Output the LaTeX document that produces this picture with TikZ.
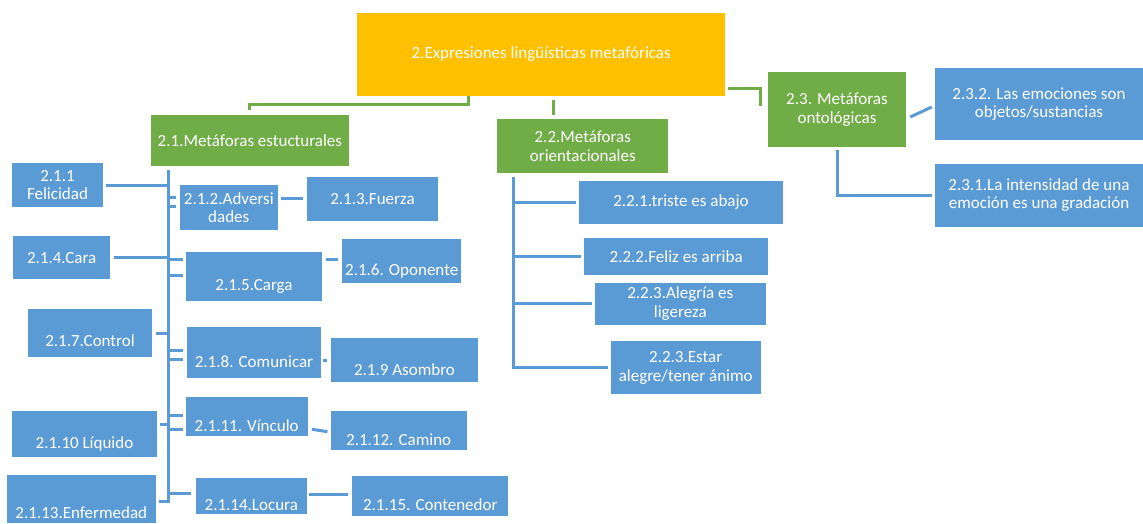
\documentclass[tikz,border=0pt]{standalone}
\usepackage{fontspec}
\setmainfont{Carlito}
\definecolor{azul}{HTML}{5B9BD5}
\definecolor{verde}{HTML}{70AD47}
\definecolor{amarillo}{HTML}{FFC000}

\begin{document}
\begin{tikzpicture}[x=1pt, y=-1pt,
  caja/.style={fill=#1, text=white, align=center, inner sep=2pt,
    font=\fontsize{17}{18.5}\selectfont},
  azulbox/.style={caja=azul},
  verdebox/.style={caja=verde},
  lowtxt/.style={text height=#1, text depth=1pt},
  linaz/.style={draw=azul, line width=3pt},
  linver/.style={draw=verde, line width=3pt}]
\useasboundingbox[fill=white] (0,0) rectangle (1143,523);

% nivel 2
\node[caja=amarillo, minimum width=367.7pt, minimum height=83.3pt] (top) at (541.2,54.3) {2.Expresiones lingüísticas metafóricas};
\node[verdebox, minimum width=198.3pt, minimum height=51pt] (g21) at (249.9,140.5) {2.1.Metáforas estucturales};
\node[verdebox, minimum width=171pt, minimum height=53.4pt] (g22) at (582.8,146) {2.2.Metáforas\\orientacionales};
\node[verdebox, minimum width=137.4pt, minimum height=75.6pt] (g23) at (837,109.5) {2.3. Metáforas\\ontológicas};

\draw[linver] ([xshift=-73pt]top.south) -- ++(0,8) -| ([yshift=5pt]g21.north);
\draw[linver] ([shift={(12.1pt,-4pt)}]top.south) -- ([shift={(-29.5pt,4pt)}]g22.north);
\draw[linver] ([shift={(3pt,-34pt)}]top.east) -| ([shift={(-7.6pt,3.5pt)}]g23.west);

% 2.3
\node[azulbox, minimum width=208pt, minimum height=71.7pt] (b232) at (1039,104.2) {2.3.2. Las emociones son\\objetos/sustancias};
\node[azulbox, minimum width=208pt, minimum height=62.7pt] (b231) at (1039,195.3) {2.3.1.La intensidad de una\\emoción es una gradación};
\draw[linaz] ([shift={(4.3pt,-7.5pt)}]g23.east) -- ([shift={(-3pt,-2.8pt)}]b232.west);
\draw[linaz] ([yshift=-2.7pt]g23.south) |- ([xshift=-3pt]b231.west);

% 2.2
\node[azulbox, minimum width=203.4pt, minimum height=43.3pt] (b221) at (681,202.3) {2.2.1.triste es abajo};
\node[azulbox, minimum width=184.3pt, minimum height=37.3pt] (b222) at (676.2,256.3) {2.2.2.Feliz es arriba};
\node[azulbox, minimum width=170.7pt, minimum height=42.3pt] (b223) at (680.3,303.8) {2.2.3.Alegría es\\ligereza};
\node[azulbox, minimum width=150pt, minimum height=53.3pt] (b224) at (685.7,367.7) {2.2.3.Estar\\alegre/tener ánimo};
\coordinate (s22) at ([shift={(-69.5pt,-4pt)}]g22.south);
\draw[linaz] (s22) |- ([xshift=-3pt]b224.west);
\foreach \n in {b221,b222,b223}
  \draw[linaz] (s22 |- \n.west) -- ([xshift=-3pt]\n.west);

% 2.1
\node[azulbox, minimum width=90.4pt, minimum height=43.4pt] (b211) at (57.5,185) {2.1.1\\Felicidad};
\node[azulbox, minimum width=97.7pt, minimum height=45pt] (b212) at (228.8,207.5) {2.1.2.Adversi\\dades};
\node[azulbox, minimum width=131.6pt, minimum height=44.3pt] (b213) at (372.5,198.8) {2.1.3.Fuerza};
\node[azulbox, minimum width=96.7pt, minimum height=43.3pt] (b214) at (61.7,257.7) {2.1.4.Cara};
\node[azulbox, lowtxt=30pt, minimum width=136.6pt, minimum height=49.3pt] (b215) at (254,276.3) {2.1.5.Carga};
\node[azulbox, lowtxt=30pt, minimum width=118.7pt, minimum height=44.3pt] (b216) at (401.7,261.2) {2.1.6. Oponente};
\node[azulbox, lowtxt=28pt, minimum width=124.6pt, minimum height=48.6pt] (b217) at (90,333) {2.1.7.Control};
\node[azulbox, lowtxt=30pt, minimum width=133.4pt, minimum height=50.4pt] (b218) at (254,352.5) {2.1.8. Comunicar};
\node[azulbox, lowtxt=32pt, minimum width=147.6pt, minimum height=43.4pt] (b219) at (404.5,360) {2.1.9 Asombro};
\node[azulbox, lowtxt=29pt, minimum width=144.4pt, minimum height=46.3pt] (b2110) at (84.5,434.2) {2.1.10 Líquido};
\node[azulbox, lowtxt=30pt, minimum width=122pt, minimum height=38.7pt] (b2111) at (246.7,416.7) {2.1.11. Vínculo};
\node[azulbox, lowtxt=30pt, minimum width=136pt, minimum height=39pt] (b2112) at (398.7,430.5) {2.1.12. Camino};
\node[azulbox, lowtxt=40pt, minimum width=149.3pt, minimum height=48pt] (b2113) at (81.3,499) {2.1.13.Enfermedad};
\node[azulbox, lowtxt=30pt, minimum width=110.7pt, minimum height=36.3pt] (b2114) at (251.3,495.8) {2.1.14.Locura};
\node[azulbox, lowtxt=30pt, minimum width=156pt, minimum height=39.7pt] (b2115) at (430.3,495.8) {2.1.15. Contenedor};

\coordinate (s21) at ([shift={(-81.2pt,-3.3pt)}]g21.south);
\draw[linaz] (s21) |- ([shift={(3.3pt,-2.7pt)}]b2113.east);
\draw[linaz] ([xshift=3.3pt]b211.east) -- (s21 |- b211.east);
\draw[linaz] ([xshift=3.3pt]b214.east) -- (s21 |- b214.east);
\draw[linaz] ([xshift=3.7pt]b217.east) -- (s21 |- b217.east);
\draw[linaz] ([shift={(3.3pt,10pt)}]b2110.east) -- ++(8.4,0);
% ramas a la derecha del eje
\draw[linaz] ([shift={(-3.3pt,10.2pt)}]b212.west) -- ++(-8,0);
\draw[linaz] ([shift={(-3.3pt,0.8pt)}]b212.west) -- ++(-8,0);
\draw[linaz] ([shift={(-3pt,17pt)}]b215.west) -- ++(-14,0);
\draw[linaz] ([shift={(-3pt,0.6pt)}]b215.west) -- ++(-14,0);
\draw[linaz] ([shift={(-4.6pt,1.8pt)}]b218.west) -- ++(-14,0);
\draw[linaz] ([shift={(-4.6pt,-6.5pt)}]b218.west) -- ++(-14,0);
\draw[linaz] ([shift={(-3pt,1.7pt)}]b2111.west) -- ++(-14,0);
\draw[linaz] ([shift={(-3pt,-12.6pt)}]b2111.west) -- ++(-14,0);
\draw[linaz] ([shift={(-4.3pt,2.5pt)}]b2114.west) -- ++(-23,0);

\draw[linaz] ([shift={(3.3pt,9.2pt)}]b212.east) -- ([shift={(-4pt,0.5pt)}]b213.west);
\draw[linaz] ([shift={(3.4pt,17pt)}]b215.east) -- ([shift={(-4pt,1.9pt)}]b216.west);
\draw[linaz] ([shift={(2.3pt,-7.5pt)}]b218.east) -- ([shift={(-3.7pt,0pt)}]b219.west);
\draw[linaz] ([shift={(4pt,-12.6pt)}]b2111.east) -- ([shift={(-3pt,-1.2pt)}]b2112.west);
\draw[linaz] ([shift={(2.6pt,1.5pt)}]b2114.east) -- ([shift={(-4pt,1.5pt)}]b2115.west);
\end{tikzpicture}
\end{document}
